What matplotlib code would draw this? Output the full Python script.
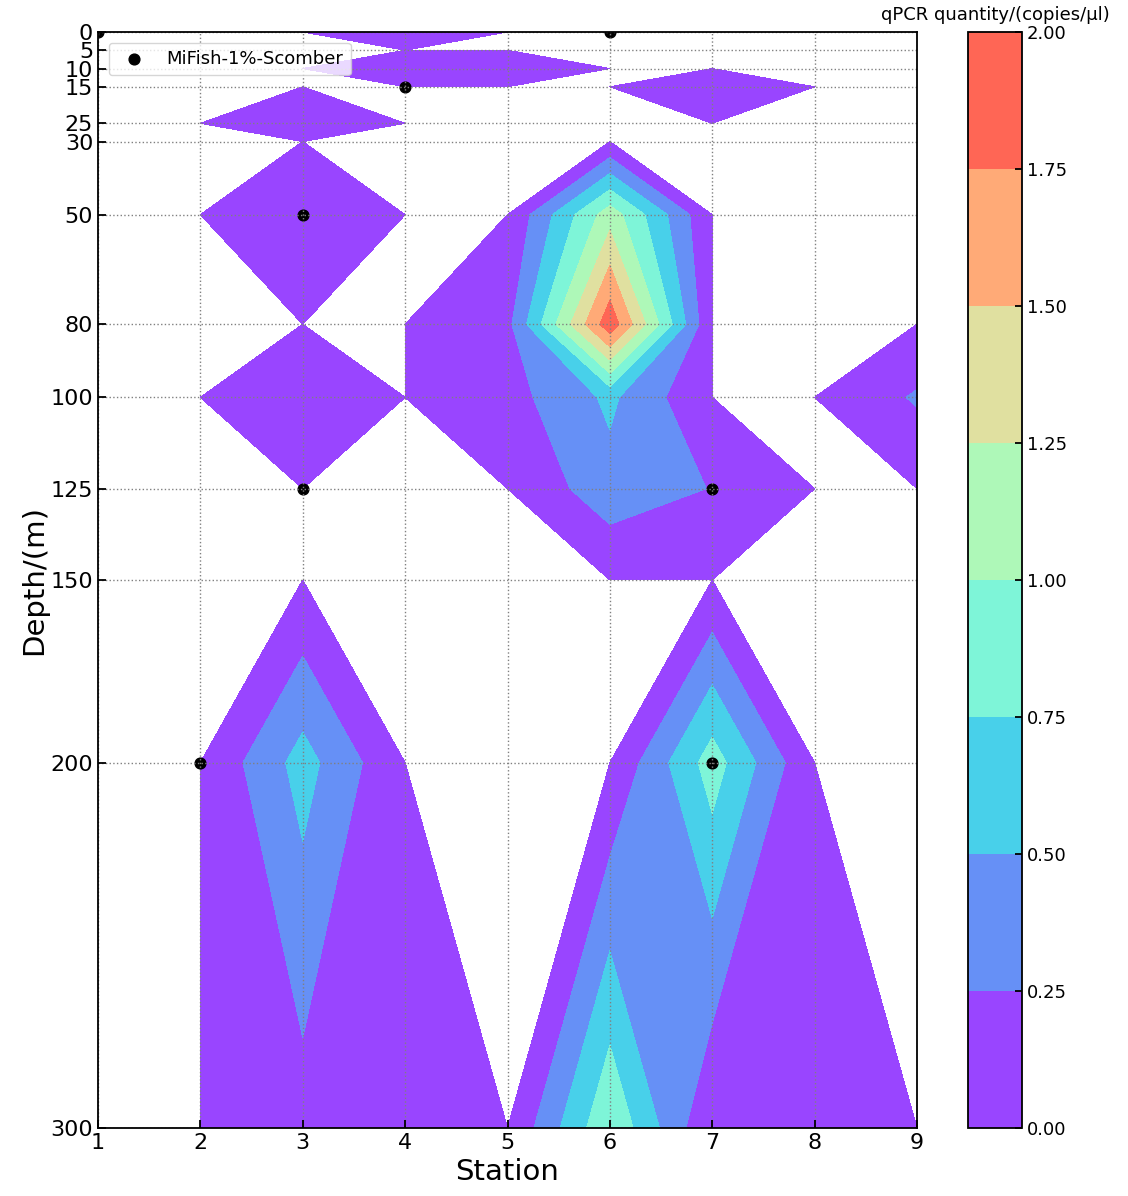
import numpy as np
import matplotlib
matplotlib.use('Agg')
import matplotlib.pyplot as plt
from matplotlib.colors import ListedColormap

# stations along x, sampled depths along y
stations = [1, 2, 3, 4, 5, 6, 7, 8, 9]
depths = [0, 5, 10, 15, 25, 30, 50, 80, 100, 125, 150, 200, 300]

# qPCR quantity (copies/ul), one row per depth, one column per station
qpcr = [
    [0, 0, 0,    0.1, 0,     0,    0,    0,   0],     # 0
    [0, 0, 0,    0,   0,     0,    0,    0,   0],     # 5
    [0, 0, 0,    0.1, 0.1,   0,    0,    0,   0],     # 10
    [0, 0, 0,    0,   0,     0,    0.1,  0,   0],     # 15
    [0, 0, 0.1,  0,   0,     0,    0,    0,   0],     # 25
    [0, 0, 0,    0,   0,     0,    0,    0,   0],     # 30
    [0, 0, 0.1,  0,   0,     1.14, 0,    0,   0],     # 50
    [0, 0, 0,    0,   0.175, 1.92, 0,    0,   0],     # 80
    [0, 0, 0.1,  0,   0.15,  0.55, 0,    0,   0.28],  # 100
    [0, 0, 0,    0,   0,     0.41, 0.24, 0,   0],     # 125
    [0, 0, 0,    0,   0,     0,    0,    0,   0],     # 150
    [0, 0, 0.6,  0,   0,     0,    0.87, 0,   0],     # 200
    [0, 0, 0.135, 0.1, 0,    0.97, 0,    0.1, 0],     # 300
]

# MiFish-1%-Scomber detections
dot_station = [1, 6, 4, 3, 3, 7, 2, 7]
dot_depth = [0, 0, 15, 50, 125, 125, 200, 200]

levels = np.arange(0, 2.01, 0.25)
band_colors = ['#9945ff', '#6690f6', '#48d0ea', '#7ef5d8',
               '#aef8b8', '#e0e0a0', '#ffaa77', '#ff6655']
cmap = ListedColormap(band_colors)

Z = np.array(qpcr, dtype=float)
# zero means nothing detected -> leave white
Z = np.where(Z > 0, Z, -1e-6)
X, Y = np.meshgrid(stations, depths)

fig = plt.figure(figsize=(11.28, 11.96), dpi=100)
W, H = 1128.0, 1196.0
ax = fig.add_axes([98 / W, 1 - 1128 / H, (917 - 98) / W, (1128 - 32) / H])
cax = fig.add_axes([968 / W, 1 - 1128 / H, 54 / W, (1128 - 32) / H])

cs = ax.contourf(X, Y, Z, levels=levels, cmap=cmap, vmin=0, vmax=2)
ax.scatter(dot_station, dot_depth, s=60, c='black', label='MiFish-1%-Scomber')

ax.set_xlim(1, 9)
ax.set_ylim(300, 0)
ax.set_xticks(stations)
ax.set_yticks(depths)
ax.tick_params(direction='in', labelsize=16, width=1.3, length=6)
ax.grid(True, linestyle=':', color='gray', linewidth=1)
for sp in ax.spines.values():
    sp.set_linewidth(1.3)
ax.set_xlabel('Station', fontsize=21, labelpad=4)
ax.set_ylabel('Depth/(m)', fontsize=21, labelpad=2)
ax.legend(loc='upper left', fontsize=13, borderaxespad=0.6)

cb = fig.colorbar(cs, cax=cax, ticks=levels, format='%.2f')
cb.ax.tick_params(direction='in', labelsize=13, width=1.3, length=5)
cb.outline.set_linewidth(1.3)
cax.set_title('qPCR quantity/(copies/μl)', fontsize=13, pad=9)

plt.savefig('out.png', dpi=100)
